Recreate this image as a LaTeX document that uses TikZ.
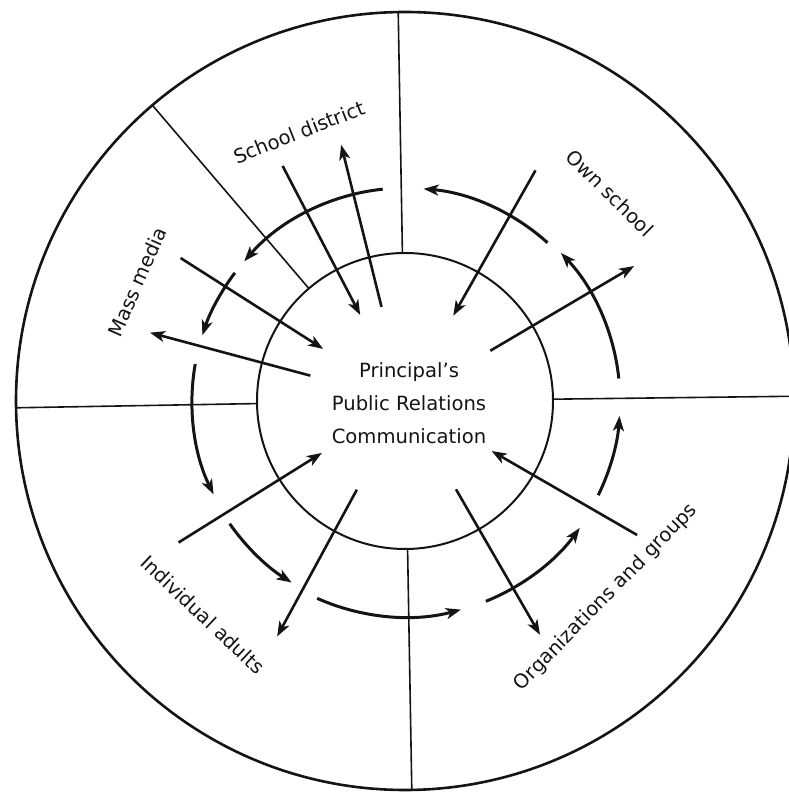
\documentclass[tikz,border=0pt]{standalone}
\usepackage{fontspec}
\setmainfont{DejaVu Sans}
\usetikzlibrary{arrows.meta}
\definecolor{ink}{RGB}{20,20,20}

\begin{document}
\begin{tikzpicture}[x=0.5pt, y=0.5pt]
    \tikzstyle{every node} = [text=ink, font=\fontsize{9.8}{16.5}\selectfont]
    \tikzstyle{spoke} = [ink, line width=1.3pt, -{Stealth[length=7.5pt, width=5.5pt, inset=2pt]}]
    \tikzstyle{ringarrow} = [ink, line width=1.5pt, -{Stealth[length=7.5pt, width=5.5pt, inset=2pt]}]
    \tikzstyle{divider} = [ink, line width=0.8pt]
    \useasboundingbox (0, 0) rectangle (788, 792);
    \coordinate (hub) at (405, 391);

    \draw[ink, line width=1.3pt] (hub) circle (389);
    \draw[ink, line width=1pt] (hub) circle (148);

    \draw[divider] ([shift={(91:148)}]hub) -- ([shift={(91:389)}]hub);
    \draw[divider] ([shift={(130.5:148)}]hub) -- ([shift={(130.5:389)}]hub);
    \draw[divider] ([shift={(181:148)}]hub) -- ([shift={(181:389)}]hub);
    \draw[divider] ([shift={(271:148)}]hub) -- ([shift={(271:389)}]hub);
    \draw[divider] ([shift={(0.7:148)}]hub) -- ([shift={(0.7:389)}]hub);

    \node[align=center] (principal) at (409, 389) {Principal's\\Public Relations\\Communication};

    \node[rotate=21.5] (district) at ([shift={(111.5:289)}]hub) {School district};
    \node[rotate=66] (media) at ([shift={(156:293)}]hub) {Mass media};
    \node[rotate=-44.6] (ownschool) at ([shift={(45.4:292)}]hub) {Own school};
    \node[rotate=-43.4] (adults) at ([shift={(226.6:294)}]hub) {Individual adults};
    \node[rotate=45.7] (groups) at ([shift={(-44.3:281)}]hub) {Organizations and groups};

    \draw[spoke] ([shift={(60.5:265)}]hub) -- ([shift={(60.5:98)}]hub);
    \draw[spoke] ([shift={(30.5:99)}]hub) -- ([shift={(30.5:266)}]hub);
    \draw[spoke] ([shift={(117.5:265)}]hub) -- ([shift={(117.5:97)}]hub);
    \draw[spoke] ([shift={(104:97)}]hub) -- ([shift={(104:264)}]hub);
    \draw[spoke] ([shift={(147.5:266)}]hub) -- ([shift={(147.5:97)}]hub);
    \draw[spoke] ([shift={(165:98)}]hub) -- ([shift={(165:264)}]hub);
    \draw[spoke] ([shift={(212:267)}]hub) -- ([shift={(212:98)}]hub);
    \draw[spoke] ([shift={(241.5:101)}]hub) -- ([shift={(241.5:268)}]hub);
    \draw[spoke] ([shift={(330:268)}]hub) -- ([shift={(330:100)}]hub);
    \draw[spoke] ([shift={(300:102)}]hub) -- ([shift={(300:270)}]hub);

    \draw[ringarrow] ([shift={(48:213)}]hub) arc[start angle=48, end angle=85, radius=213];
    \draw[ringarrow] ([shift={(96:213)}]hub) arc[start angle=96, end angle=139, radius=213];
    \draw[ringarrow] ([shift={(143:213)}]hub) arc[start angle=143, end angle=162, radius=213];
    \draw[ringarrow] ([shift={(170:213)}]hub) arc[start angle=170, end angle=206, radius=213];
    \draw[ringarrow] ([shift={(215:214)}]hub) arc[start angle=215, end angle=238, radius=214];
    \draw[ringarrow] ([shift={(246:216)}]hub) arc[start angle=246, end angle=285, radius=216];
    \draw[ringarrow] ([shift={(292:216)}]hub) arc[start angle=292, end angle=324, radius=216];
    \draw[ringarrow] ([shift={(334:215)}]hub) arc[start angle=334, end angle=356, radius=215];
    \draw[ringarrow] ([shift={(6:215)}]hub) arc[start angle=6, end angle=43.5, radius=215];
\end{tikzpicture}
\end{document}
